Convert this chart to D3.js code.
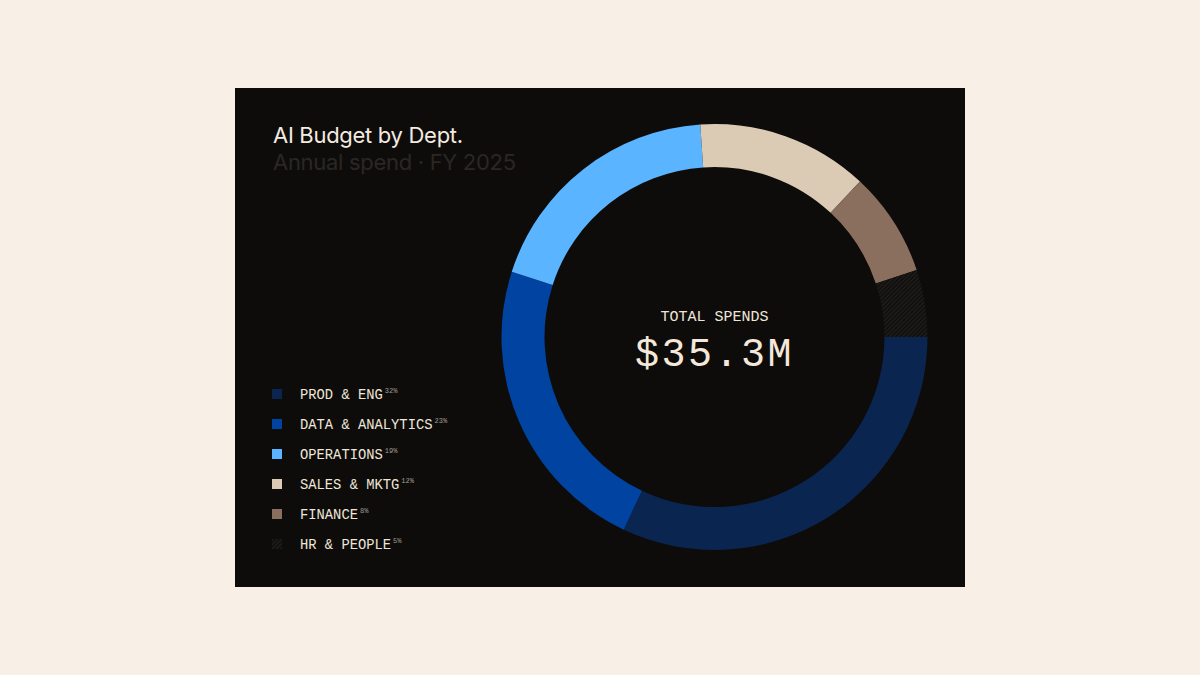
<!DOCTYPE html>
<html>
<head>
<meta charset="utf-8">
<script src="https://cdn.jsdelivr.net/npm/d3@7"></script>
<style>
  html, body { margin: 0; padding: 0; background: #f8efe6; }
  svg { display: block; }
</style>
</head>
<body>
<svg id="chart" width="1200" height="675"></svg>
<script>
// department spend, $M
const departments = ['PROD & ENG', 'DATA & ANALYTICS', 'OPERATIONS', 'SALES & MKTG', 'FINANCE', 'HR & PEOPLE'];
const spend = [11.3, 8.1, 6.7, 4.6, 2.8, 1.8];
const shareLabels = ['32%', '23%', '19%', '12%', '8%', '5%'];
const colors = ['#0a2550', '#0043a0', '#5ab4ff', '#dccbb4', '#8a6e5e', 'url(#hatch)'];
const totalLabel = '$35.3M';

const mono = '"Liberation Mono", "DejaVu Sans Mono", monospace';
const svg = d3.select('#chart');

// hatch pattern for the last slice
const defs = svg.append('defs');
const pat = defs.append('pattern')
    .attr('id', 'hatch')
    .attr('patternUnits', 'userSpaceOnUse')
    .attr('width', 3)
    .attr('height', 3)
    .attr('patternTransform', 'rotate(45)');
pat.append('rect').attr('width', 3).attr('height', 3).attr('fill', '#12100e');
pat.append('line')
    .attr('x1', 0).attr('y1', 0).attr('x2', 0).attr('y2', 3)
    .attr('stroke', '#2c2a27')
    .attr('stroke-width', 1.2);

// dark panel
svg.append('rect')
    .attr('x', 235).attr('y', 88)
    .attr('width', 730).attr('height', 499)
    .attr('fill', '#0e0c0a');

// titles
svg.append('text')
    .attr('x', 273).attr('y', 143)
    .attr('fill', '#f3ebe0')
    .style('font-family', 'Inter, "Noto Sans", sans-serif')
    .style('font-size', '22px')
    .style('letter-spacing', '-0.3px')
    .text('AI Budget by Dept.');

svg.append('text')
    .attr('x', 273).attr('y', 170)
    .attr('fill', '#2a2724')
    .style('font-family', 'Inter, "Noto Sans", sans-serif')
    .style('font-size', '22px')
    .style('letter-spacing', '-0.3px')
    .text('Annual spend · FY 2025');

// donut
const cx = 714.5, cy = 337;
const outerR = 213, innerR = 170;

const pie = d3.pie()
    .sort(null)
    .value(d => d)
    .startAngle(Math.PI / 2)
    .endAngle(Math.PI / 2 + 2 * Math.PI);

const arc = d3.arc().innerRadius(innerR).outerRadius(outerR);

const g = svg.append('g').attr('transform', `translate(${cx},${cy})`);
g.selectAll('path')
    .data(pie(spend))
    .join('path')
    .attr('d', arc)
    .attr('fill', (d, i) => colors[i]);

// centre label
g.append('text')
    .attr('y', -16)
    .attr('text-anchor', 'middle')
    .attr('fill', '#efe6da')
    .style('font-family', mono)
    .style('font-size', '15px')
    .text('TOTAL SPENDS');

g.append('text')
    .attr('y', 29)
    .attr('text-anchor', 'middle')
    .attr('fill', '#f3e8da')
    .style('font-family', mono)
    .style('font-size', '40px')
    .style('letter-spacing', '2.5px')
    .text(totalLabel);

// legend
const legendY = d3.scalePoint()
    .domain(departments)
    .range([394, 544]);

const legend = svg.append('g')
    .selectAll('g')
    .data(departments)
    .join('g')
    .attr('transform', d => `translate(272,${legendY(d)})`);

legend.append('rect')
    .attr('x', 0).attr('y', -5)
    .attr('width', 10).attr('height', 10)
    .attr('fill', (d, i) => colors[i]);

const label = legend.append('text')
    .attr('x', 28).attr('y', 5)
    .attr('fill', '#efe6da')
    .style('font-family', mono)
    .style('font-size', '13.8px');

label.append('tspan').text(d => d);
label.append('tspan')
    .attr('dx', 2)
    .attr('dy', -6)
    .attr('fill', '#a39c92')
    .style('font-size', '7px')
    .text((d, i) => shareLabels[i]);
</script>
</body>
</html>
